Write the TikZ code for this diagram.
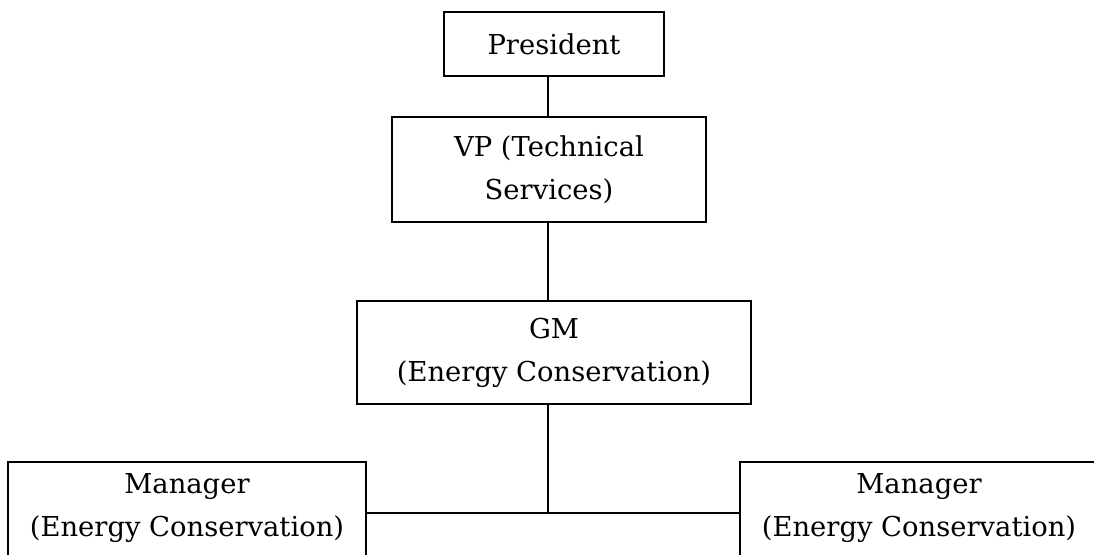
\documentclass[tikz,border=0pt]{standalone}
\usepackage{fontspec}
\setmainfont{DejaVu Serif}

\begin{document}
\begin{tikzpicture}[x=0.5pt, y=-0.5pt,
  box/.style={shape=rectangle, draw, line width=1pt, align=center, inner sep=0pt,
    font=\fontsize{13.7}{21.5}\selectfont},
  link/.style={line width=0.9pt}]
\useasboundingbox (0,0) rectangle (1094,554);
\clip (0,0) rectangle (1094,554);

\node [box, minimum width=110pt, minimum height=32pt] (President) at (554,44) {President};
\node [box, minimum width=157pt, minimum height=52.5pt] (VP) at (549,169.5) {VP (Technical\\Services)};
\node [box, minimum width=197pt, minimum height=51.5pt] (GM) at (554,352.5) {GM\\(Energy Conservation)};
\node [box, anchor=north, minimum width=179pt, inner ysep=6pt, text depth=60pt] (ManagerL) at (187,461) {Manager\\(Energy Conservation)};
\node [box, anchor=north, minimum width=179pt, inner ysep=6pt, text depth=60pt] (ManagerR) at (919,461) {Manager\\(Energy Conservation)};
\coordinate (J) at (548,513);

\draw[link] (President.south -| J) -- (VP.north -| J);
\draw[link] (VP.south -| J) -- (GM.north -| J);
\draw[link] (GM.south -| J) -- (J);
\draw[link] (ManagerL.east |- J) -- (ManagerR.west |- J);
\end{tikzpicture}
\end{document}
